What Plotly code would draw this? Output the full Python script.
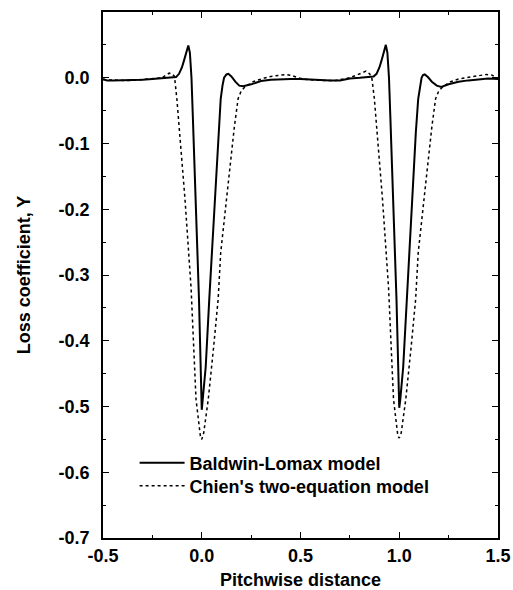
import plotly.graph_objects as go

# Baldwin-Lomax model (solid)
bl_x = [-0.5, -0.48, -0.45, -0.4, -0.35, -0.3, -0.25, -0.2, -0.15, -0.13, -0.115, -0.1, -0.09, -0.08, -0.068,
        -0.06, -0.052, -0.045, -0.03, -0.014, 0.0, 0.005, 0.02, 0.038, 0.067, 0.084, 0.096, 0.105, 0.113, 0.125,
        0.135, 0.15, 0.17, 0.19, 0.21, 0.25, 0.3, 0.35, 0.4, 0.45, 0.5, 0.55, 0.6, 0.65, 0.7, 0.75, 0.8, 0.85,
        0.87, 0.885, 0.9, 0.91, 0.92, 0.932, 0.94, 0.948, 0.955, 0.97, 0.986, 1.0, 1.005, 1.02, 1.038, 1.067,
        1.084, 1.096, 1.105, 1.113, 1.12, 1.129, 1.145, 1.165, 1.19, 1.213, 1.25, 1.3, 1.35, 1.4, 1.45, 1.5]
bl_y = [-0.002, -0.004, -0.004, -0.004, -0.004, -0.003, -0.002, -0.001, 0.0, 0.001, 0.006, 0.016, 0.026, 0.038, 0.049,
        0.038, 0.0, -0.06, -0.19, -0.337, -0.505, -0.49, -0.44, -0.337, -0.184, -0.083, -0.032, -0.012, 0.0, 0.005,
        0.006, 0.002, -0.006, -0.012, -0.013, -0.010, -0.005, -0.003, -0.002, -0.002, -0.002, -0.003, -0.004, -0.004,
        -0.004, -0.001, 0.0, 0.001, 0.002, 0.006, 0.016, 0.026, 0.038, 0.05, 0.038, 0.0, -0.06, -0.19, -0.337, -0.502,
        -0.49, -0.44, -0.337, -0.184, -0.083, -0.032, -0.012, 0.0, 0.004, 0.005, 0.001, -0.006, -0.012, -0.014,
        -0.010, -0.006, -0.004, -0.002, -0.001, -0.002]

# Chien's two-equation model (dotted)
ch_x = [-0.5, -0.45, -0.4, -0.35, -0.3, -0.25, -0.2, -0.18, -0.165, -0.15, -0.138, -0.126, -0.108, -0.085, -0.054,
        -0.029, -0.007, 0.0, 0.01, 0.033, 0.06, 0.083, 0.096, 0.12, 0.143, 0.165, 0.184, 0.2, 0.219, 0.26, 0.3,
        0.35, 0.4, 0.427, 0.46, 0.51, 0.55, 0.6, 0.68, 0.75, 0.8, 0.832, 0.85, 0.862, 0.874, 0.892, 0.915, 0.946,
        0.971, 0.993, 1.0, 1.01, 1.033, 1.06, 1.083, 1.096, 1.12, 1.143, 1.165, 1.184, 1.2, 1.22, 1.26, 1.3,
        1.357, 1.4, 1.44, 1.47, 1.5]
ch_y = [-0.003, -0.004, -0.004, -0.004, -0.003, -0.002, 0.0, 0.004, 0.007, 0.006, 0.002, -0.032, -0.1, -0.184, -0.32,
        -0.489, -0.545, -0.55, -0.54, -0.489, -0.41, -0.337, -0.266, -0.2, -0.134, -0.075, -0.032, -0.02, -0.014,
        -0.006, -0.002, 0.002, 0.004, 0.005, 0.003, -0.002, -0.003, -0.004, -0.004, 0.0, 0.006, 0.01, 0.006,
        -0.002, -0.032, -0.1, -0.184, -0.32, -0.489, -0.545, -0.548, -0.54, -0.489, -0.41, -0.337, -0.266, -0.2,
        -0.134, -0.075, -0.032, -0.02, -0.014, -0.006, -0.002, 0.001, 0.003, 0.005, 0.004, -0.002]

x_tickvals = [-0.5, 0.0, 0.5, 1.0, 1.5]
x_ticktext = ["-0.5", "0.0", "0.5", "1.0", "1.5"]
y_tickvals = [0.0, -0.1, -0.2, -0.3, -0.4, -0.5, -0.6, -0.7]
y_ticktext = ["0.0", "-0.1", "-0.2", "-0.3", "-0.4", "-0.5", "-0.6", "-0.7"]

FONT = "Liberation Sans, Arial, Helvetica, sans-serif"
LEG_FONT = dict(family=FONT, size=18, color="black", weight="bold")

fig = go.Figure()
fig.add_trace(go.Scatter(x=bl_x, y=bl_y, mode="lines", name="Baldwin-Lomax model",
                         line=dict(color="black", width=2), legend="legend"))
fig.add_trace(go.Scatter(x=ch_x, y=ch_y, mode="lines", name="Chien's two-equation model",
                         line=dict(color="black", width=1.5, dash="dot"), legend="legend2"))

axis_common = dict(
    showline=True, linecolor="black", linewidth=1.5, mirror="ticks",
    ticks="inside", ticklen=6, tickwidth=1.2, tickcolor="black",
    showgrid=False, zeroline=False,
    tickfont=dict(family=FONT, size=18, color="black", weight="bold"),
)

fig.update_xaxes(range=[-0.5, 1.5], tickvals=x_tickvals, ticktext=x_ticktext,
                 minor=dict(dtick=0.25, tick0=-0.5, ticks="inside", ticklen=3, tickcolor="black"),
                 title=dict(text="Pitchwise distance", font=dict(family=FONT, size=18, color="black", weight="bold"),
                            standoff=10),
                 ticklabelstandoff=1,
                 **axis_common)
fig.update_yaxes(range=[-0.7, 0.1], tickvals=y_tickvals, ticktext=y_ticktext,
                 minor=dict(dtick=0.05, tick0=0, ticks="inside", ticklen=3, tickcolor="black"),
                 title=dict(text="Loss coefficient, Y", font=dict(family=FONT, size=18, color="black", weight="bold"),
                            standoff=23),
                 ticklabelstandoff=8,
                 **axis_common)

fig.update_layout(
    width=513, height=590,
    margin=dict(l=103, r=15, t=12, b=52, autoexpand=False),
    paper_bgcolor="white", plot_bgcolor="white",
    showlegend=True,
    legend=dict(x=0.08, y=0.1426, xanchor="left", yanchor="middle", bgcolor="rgba(0,0,0,0)",
                font=LEG_FONT, itemwidth=45),
    legend2=dict(x=0.08, y=0.0989, xanchor="left", yanchor="middle", bgcolor="rgba(0,0,0,0)",
                 font=LEG_FONT, itemwidth=45),
)

fig.write_html("out.html", config={"displayModeBar": False},
               post_script="document.body.style.margin='0';document.body.style.overflow='hidden';")
